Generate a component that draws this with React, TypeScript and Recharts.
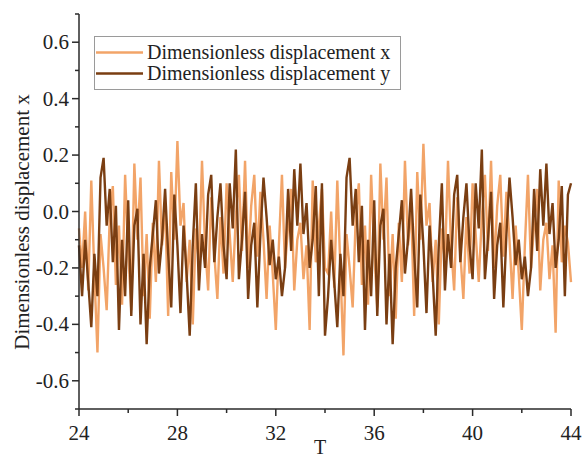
import React from "react";
import { LineChart, Line, XAxis, YAxis } from "recharts";

// Dimensionless displacement x (light), T = 24 .. 34 (step 0.125)
const dispX1 = [
  -0.06, -0.2, 0.0, -0.28, 0.11, -0.22, -0.5, -0.08, -0.2, -0.35,
  -0.02, 0.09, -0.26, -0.05, -0.33, 0.13, -0.14, -0.35, 0.17, -0.1,
  0.12, -0.3, -0.08, -0.38, -0.04, -0.25, 0.18, -0.12, 0.02, -0.37,
  0.14, -0.1, 0.25, -0.05, 0.03, -0.25, -0.1, -0.4, -0.06, -0.18,
  0.18, -0.12, -0.28, 0.05, -0.15, -0.31, -0.02, -0.22, 0.1, -0.08,
  -0.25, -0.02, 0.13, -0.14, 0.18, -0.2, 0.02, 0.13, -0.16, 0.07,
  -0.1, -0.31, -0.05, -0.22, -0.42, -0.12, 0.13, -0.2, -0.05, 0.08,
  -0.28, -0.1, -0.04, -0.24, -0.12, -0.42, 0.11, -0.18, -0.05, 0.08,
];
// T = 34 .. 44
const dispX2 = [
  -0.2, -0.22, 0.0, -0.27, 0.11, -0.2, -0.51, -0.08, -0.2, -0.34,
  -0.02, 0.1, -0.26, -0.05, -0.33, 0.13, -0.14, -0.34, 0.17, -0.1,
  0.12, -0.3, -0.08, -0.38, -0.04, -0.25, 0.18, -0.12, 0.02, -0.37,
  0.14, -0.1, 0.24, -0.05, 0.03, -0.25, -0.1, -0.4, -0.06, -0.18,
  0.18, -0.12, -0.28, 0.05, -0.15, -0.31, -0.02, -0.22, 0.1, -0.08,
  -0.25, -0.02, 0.13, -0.14, 0.18, -0.2, 0.02, 0.13, -0.16, 0.07,
  -0.1, -0.31, -0.05, -0.22, -0.42, -0.12, 0.13, -0.2, -0.05, 0.08,
  -0.28, -0.1, -0.04, -0.24, -0.12, -0.43, 0.11, -0.18, -0.05, -0.11,
  -0.25,
];
// Dimensionless displacement y (dark), T = 24 .. 34
const dispY1 = [
  -0.12, -0.3, -0.1, -0.25, -0.41, -0.15, -0.3, 0.12, 0.19, -0.05,
  0.08, -0.18, 0.02, -0.42, -0.1, -0.3, 0.04, -0.37, -0.05, 0.01,
  -0.4, -0.15, -0.47, -0.2, -0.08, 0.04, -0.22, -0.1, 0.08, -0.15,
  -0.34, 0.06, -0.12, -0.36, -0.05, -0.22, -0.44, -0.12, 0.1, -0.28,
  -0.08, -0.2, 0.06, 0.13, -0.18, -0.02, 0.1, -0.12, -0.24, 0.1,
  -0.06, 0.22, -0.24, -0.1, 0.07, -0.31, -0.12, -0.04, -0.34, -0.08,
  0.12, -0.02, -0.19, -0.1, -0.24, -0.16, -0.3, -0.2, 0.08, -0.14,
  0.15, -0.05, 0.17, -0.08, 0.03, -0.2, -0.1, 0.09, -0.3, 0.1,
];
// T = 34 .. 44
const dispY2 = [
  -0.44, -0.3, -0.1, -0.25, -0.41, -0.15, -0.3, 0.12, 0.19, -0.05,
  0.08, -0.18, 0.02, -0.42, -0.1, -0.3, 0.04, -0.37, -0.05, 0.01,
  -0.4, -0.15, -0.47, -0.2, -0.08, 0.04, -0.22, -0.1, 0.08, -0.15,
  -0.34, 0.06, -0.12, -0.36, -0.05, -0.22, -0.44, -0.12, 0.1, -0.28,
  -0.08, -0.2, 0.06, 0.13, -0.18, -0.02, 0.1, -0.12, -0.24, 0.1,
  -0.06, 0.22, -0.24, -0.1, 0.07, -0.31, -0.12, -0.04, -0.34, -0.08,
  0.12, -0.02, -0.19, -0.1, -0.24, -0.16, -0.3, -0.2, 0.08, -0.14,
  0.15, -0.05, 0.17, -0.08, 0.03, -0.2, -0.1, 0.09, -0.3, 0.06,
  0.1,
];

const T_START = 24;
const T_STEP = 0.125;
const xTicks = [24, 26, 28, 30, 32, 34, 36, 38, 40, 42, 44];
const yTicks = [-0.7, -0.6, -0.5, -0.4, -0.3, -0.2, -0.1, 0, 0.1, 0.2, 0.3, 0.4, 0.5, 0.6, 0.7];
const seriesNames = ["Dimensionless displacement x", "Dimensionless displacement y"];
const LIGHT = "#F2A468";
const DARK = "#7A3E12";
const FONT = "'Liberation Serif', 'Times New Roman', serif";
const AXIS = "#2a2a2a";

const xs = [...dispX1, ...dispX2];
const ys = [...dispY1, ...dispY2];
const data = xs.map((v, i) => ({ t: T_START + i * T_STEP, x: v, y: ys[i] }));

const XTick = (props: any) => {
  const { x, y, payload } = props;
  const v = payload.value as number;
  const major = v % 4 === 0;
  return (
    <g>
      <line x1={x} y1={y} x2={x} y2={y + (major ? 7 : 4)} stroke={AXIS} strokeWidth={1.5} />
      {major && (
        <text x={x} y={y + 31} textAnchor="middle" fontFamily={FONT} fontSize={21} fill="#222">
          {v}
        </text>
      )}
    </g>
  );
};

const YTick = (props: any) => {
  const { x, y, payload } = props;
  const v = payload.value as number;
  const major = Math.abs(Math.round(v * 10)) % 2 === 0;
  return (
    <g>
      <line x1={x} y1={y} x2={x - (major ? 7 : 4)} y2={y} stroke={AXIS} strokeWidth={1.5} />
      {major && (
        <text x={x - 10} y={y + 7} textAnchor="end" fontFamily={FONT} fontSize={21} fill="#222">
          {v.toFixed(1)}
        </text>
      )}
    </g>
  );
};

const LegendBox = () => (
  <div
    style={{
      position: "absolute",
      left: 94,
      top: 36,
      border: "1px solid #9a9a9a",
      background: "#fff",
      width: 305,
      height: 52,
      boxSizing: "content-box",
      fontFamily: FONT,
      fontSize: 20,
      color: "#222",
    }}
  >
    {[LIGHT, DARK].map((c, i) => (
      <div key={i} style={{ display: "flex", alignItems: "center", height: 21, marginTop: i === 0 ? 5 : 0 }}>
        <svg width={52} height={21} style={{ display: "block" }}>
          <line x1={1} y1={10.5} x2={48} y2={10.5} stroke={c} strokeWidth={2.5} />
        </svg>
        <span style={{ lineHeight: "21px", whiteSpace: "nowrap" }}>{seriesNames[i]}</span>
      </div>
    ))}
  </div>
);

export default function App() {
  return (
    <div style={{ position: "absolute", left: 0, top: 0, width: 582, height: 460, background: "#fff" }}>
      <LineChart width={582} height={460} data={data} margin={{ top: 14, right: 11, bottom: 0, left: 0 }}>
        <XAxis
          dataKey="t"
          type="number"
          domain={[24, 44]}
          ticks={xTicks}
          interval={0}
          height={51}
          tickSize={0}
          tickMargin={0}
          tickLine={false}
          tick={<XTick />}
          axisLine={{ stroke: AXIS, strokeWidth: 1.5 }}
          label={() => (
            <text x={320} y={454} textAnchor="middle" fontFamily={FONT} fontSize={20} fill="#222">
              T
            </text>
          )}
        />
        <YAxis
          type="number"
          domain={[-0.7, 0.7]}
          ticks={yTicks}
          interval={0}
          width={79}
          tickSize={0}
          tickMargin={0}
          tickLine={false}
          tick={<YTick />}
          axisLine={{ stroke: AXIS, strokeWidth: 1.5 }}
          allowDataOverflow
          label={() => (
            <text
              x={22}
              y={222}
              transform="rotate(-90 22 222)"
              textAnchor="middle"
              dominantBaseline="central"
              fontFamily={FONT}
              fontSize={21}
              fill="#222"
            >
              Dimensionless displacement x
            </text>
          )}
        />
        <Line dataKey="x" name={seriesNames[0]} stroke={LIGHT} strokeWidth={2.4} dot={false} isAnimationActive={false} />
        <Line dataKey="y" name={seriesNames[1]} stroke={DARK} strokeWidth={2.4} dot={false} isAnimationActive={false} />
      </LineChart>
      <LegendBox />
    </div>
  );
}
